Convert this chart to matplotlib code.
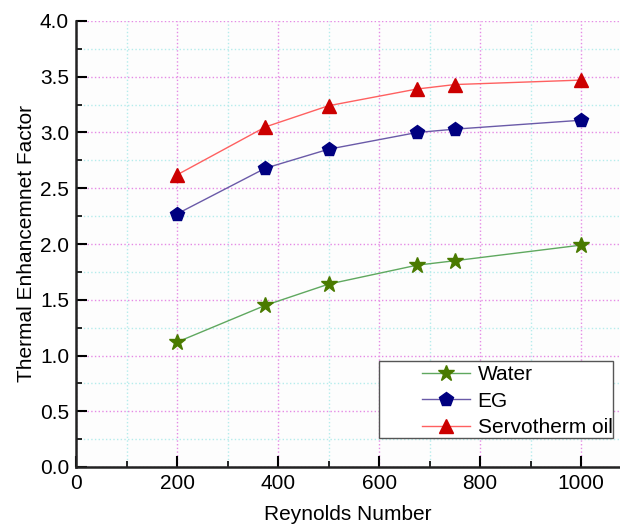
import matplotlib
matplotlib.use('Agg')
import matplotlib.pyplot as plt
from matplotlib.ticker import MultipleLocator
from matplotlib.patches import Rectangle

plt.rcParams['font.family'] = ['Liberation Sans', 'DejaVu Sans']

# данные
reynolds = [200, 375, 500, 675, 750, 1000]
water = [1.12, 1.45, 1.64, 1.81, 1.85, 1.99]
eg = [2.27, 2.68, 2.85, 3.00, 3.03, 3.11]
oil = [2.62, 3.05, 3.24, 3.39, 3.43, 3.47]

fig = plt.figure(figsize=(6.2, 5.24), dpi=100)
ax = fig.add_axes([76 / 620, 57 / 524, 544 / 620, 446 / 524])
ax.set_facecolor('#fdfdfd')

ax.plot(reynolds, water, color='#5fa85f', lw=1, marker='*', ms=12,
        mfc='#4a7a00', mec='#4a7a00', label='Water')
ax.plot(reynolds, eg, color='#6a5aa8', lw=1, marker='p', ms=10,
        mfc='#000080', mec='#000080', label='EG')
ax.plot(reynolds, oil, color='#ff6060', lw=1, marker='^', ms=10,
        mfc='#cc0000', mec='#cc0000', label='Servotherm oil')

ax.set_xlim(0, 1077)
ax.set_ylim(0, 4.0)
ax.xaxis.set_major_locator(MultipleLocator(200))
ax.xaxis.set_minor_locator(MultipleLocator(100))
ax.yaxis.set_major_locator(MultipleLocator(0.5))
ax.yaxis.set_minor_locator(MultipleLocator(0.25))
ax.yaxis.set_major_formatter(plt.FormatStrFormatter('%.1f'))

ax.grid(which='major', color='#e58ae5', ls=':', lw=1)
ax.grid(which='minor', color='#b5ecec', ls=':', lw=1)
ax.set_axisbelow(True)

for s in ['top', 'right']:
    ax.spines[s].set_visible(False)
for s in ['left', 'bottom']:
    ax.spines[s].set_linewidth(1.8)
    ax.spines[s].set_color('#222222')

ax.tick_params(which='major', direction='in', length=8, width=1.5,
               labelsize=15, pad=5)
ax.tick_params(which='minor', direction='in', length=4, width=1.2)

ax.set_xlabel('Reynolds Number', fontsize=15, labelpad=9)
ax.set_ylabel('Thermal Enhancemnet Factor', fontsize=15, labelpad=3)

# рамка легенды шире, чем сама легенда
ax.add_patch(Rectangle((0.557, 0.065), 0.430, 0.173, transform=ax.transAxes,
                       facecolor='white', edgecolor='#555555', lw=1,
                       zorder=4.5, clip_on=False))
leg = ax.legend(loc='lower right', bbox_to_anchor=(0.99, 0.062), fontsize=15,
                frameon=False, handlelength=2.3, handletextpad=0.35,
                borderpad=0.1, labelspacing=0.36, borderaxespad=0)

plt.savefig('out.png', dpi=100)
